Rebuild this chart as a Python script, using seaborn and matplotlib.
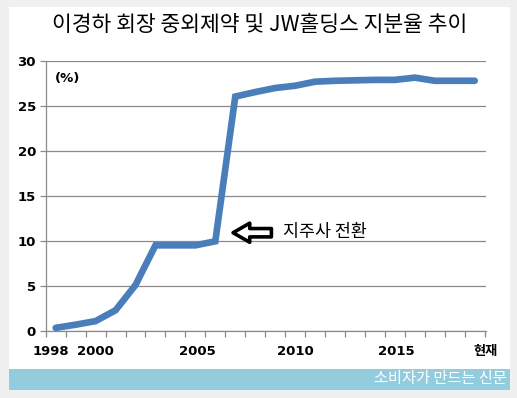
import numpy as np
import pandas as pd
import matplotlib
matplotlib.use("Agg")
import matplotlib.pyplot as plt
from matplotlib.patches import Rectangle
import seaborn as sns

# ---- data ----
categories = [str(y) for y in range(1998, 2019)] + ["현재"]
shares = [0.35, 0.7, 1.1, 2.3, 5.1, 9.5, 9.5, 9.5, 9.95, 26.0, 26.5, 26.95,
          27.2, 27.65, 27.75, 27.8, 27.85, 27.85, 28.1, 27.75, 27.75, 27.75]
tick_labels = ["1998", "2000", "2005", "2010", "2015", "현재"]
tick_label_pos = [-0.25, 2, 7.1, 12, 17.05, 21.55]
y_ticks = [0, 5, 10, 15, 20, 25, 30]
title = "이경하 회장 중외제약 및 JW홀딩스 지분율 추이"
note = "지주사 전환"
footer = "소비자가 만드는 신문"

df = pd.DataFrame({"pos": np.arange(len(categories)), "share": shares})

sns.set_theme(style="white")
plt.rcParams["font.family"] = ["DejaVu Sans", "Noto Sans CJK KR"]
plt.rcParams["text.color"] = "black"
CJK = ["Noto Sans CJK KR", "DejaVu Sans"]

W, H = 517, 398
fig = plt.figure(figsize=(W / 100, H / 100), dpi=100, facecolor="#f0f0f0")

# background panels
bg = fig.add_axes([0, 0, 1, 1], zorder=0)
bg.set_xlim(0, W)
bg.set_ylim(H, 0)
bg.axis("off")
bg.add_patch(Rectangle((9, 7), 501, 362, facecolor="white", edgecolor="none"))
bg.add_patch(Rectangle((9, 369), 501, 21, facecolor="#93cddd", edgecolor="none"))

ax = fig.add_axes([45.7 / W, 1 - 331 / H, 440 / W, 270.5 / H], zorder=2)
ax.set_facecolor("none")

sns.lineplot(data=df, x="pos", y="share", ax=ax, color="#4a7ebb",
             linewidth=4.8, solid_capstyle="round", solid_joinstyle="miter",
             zorder=3)

ax.set_xlim(-0.5, len(categories) - 0.5)
ax.set_ylim(0, 30)
ax.set_yticks(y_ticks)
ax.set_yticklabels([str(v) for v in y_ticks], fontsize=9.5, fontweight="bold")
ax.yaxis.grid(True, color="#8a8a8a", linewidth=0.9)
ax.set_axisbelow(True)

ax.set_xticks(tick_label_pos)
ax.set_xticklabels(tick_labels, fontsize=9.5, fontweight="bold")
ax.set_xticks(np.arange(-0.5, len(categories), 1.0), minor=True)
ax.tick_params(axis="x", which="major", length=0, pad=10, labelcolor="black")
ax.tick_params(axis="x", which="minor", length=4, width=0.9,
               color="#8a8a8a", direction="out", bottom=True)
ax.tick_params(axis="y", which="major", length=4, width=0.9,
               color="#8a8a8a", direction="out", pad=3, left=True,
               labelcolor="black")
for lab in ax.get_xticklabels():
    lab.set_fontfamily(["DejaVu Sans", "Noto Sans CJK KR"])
ax.set_xlabel("")
ax.set_ylabel("")

for s in ["top", "right"]:
    ax.spines[s].set_visible(False)
for s in ["left", "bottom"]:
    ax.spines[s].set_color("#8a8a8a")
    ax.spines[s].set_linewidth(0.9)

ax.text(0.02, 0.935, "(%)", transform=ax.transAxes, fontsize=9.5,
        fontweight="bold", ha="left", va="center", color="black")

# annotation arrow + text
ax.annotate("", xy=(8.75, 10.9), xytext=(10.95, 10.9),
            arrowprops=dict(arrowstyle="simple,head_length=1.0,head_width=1.15,tail_width=0.5",
                            fc="white", ec="black", lw=2.6), zorder=4)
ax.text(11.4, 11.0, note, fontsize=12.5, family=CJK, ha="left", va="center",
        color="black")

fig.text(260 / W, 1 - 25 / H, title, fontsize=15.5, family=CJK,
         ha="center", va="center", zorder=5, color="black")
fig.text(507 / W, 1 - 379 / H, footer, fontsize=11, family=CJK,
         color="white", ha="right", va="center", zorder=5)

fig.savefig("out.png", dpi=100, facecolor=fig.get_facecolor())
